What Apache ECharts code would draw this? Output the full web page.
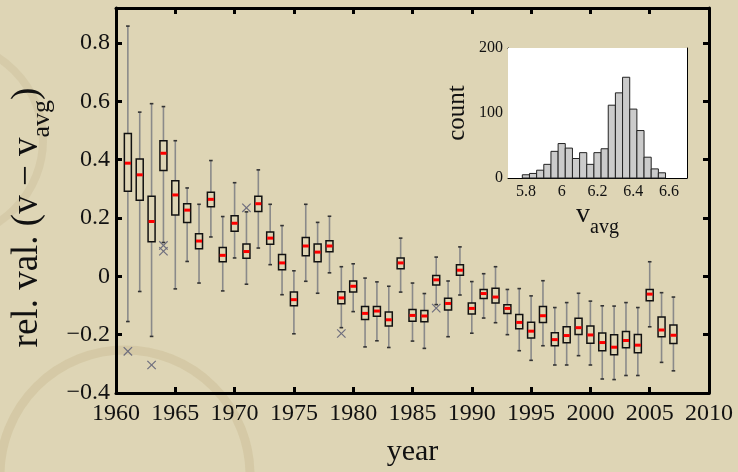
<!DOCTYPE html>
<html>
<head>
<meta charset="utf-8">
<script src="https://cdn.jsdelivr.net/npm/echarts@6/dist/echarts.min.js"></script>
<style>
html,body{margin:0;padding:0;background:#ded5b5;}
#c{width:738px;height:472px;}
</style>
</head>
<body>
<div id="c"></div>
<script>
// ---- data ----
const years = [1961,1962,1963,1964,1965,1966,1967,1968,1969,1970,1971,1972,1973,1974,1975,1976,1977,1978,1979,1980,1981,1982,1983,1984,1985,1986,1987,1988,1989,1990,1991,1992,1993,1994,1995,1996,1997,1998,1999,2000,2001,2002,2003,2004,2005,2006,2007];
const whiskerLow = [-0.155,-0.052,-0.206,0.116,-0.043,0.051,-0.023,0.135,-0.050,0.063,-0.027,0.097,0.040,-0.063,-0.197,-0.017,-0.058,0.012,-0.176,-0.121,-0.242,-0.221,-0.244,-0.054,-0.222,-0.247,-0.097,-0.207,-0.064,-0.195,-0.143,-0.159,-0.200,-0.255,-0.288,-0.238,-0.304,-0.304,-0.272,-0.304,-0.352,-0.354,-0.340,-0.340,-0.173,-0.295,-0.324];
const q1 = [0.292,0.261,0.119,0.363,0.210,0.185,0.095,0.239,0.050,0.155,0.062,0.222,0.110,0.023,-0.101,0.071,0.050,0.084,-0.094,-0.054,-0.148,-0.137,-0.170,0.026,-0.154,-0.156,-0.030,-0.115,0.004,-0.129,-0.076,-0.091,-0.127,-0.180,-0.211,-0.158,-0.238,-0.228,-0.199,-0.229,-0.255,-0.269,-0.245,-0.262,-0.084,-0.207,-0.230];
const median = [0.388,0.348,0.188,0.422,0.279,0.227,0.121,0.264,0.072,0.182,0.085,0.249,0.131,0.046,-0.080,0.104,0.083,0.104,-0.074,-0.034,-0.127,-0.119,-0.149,0.046,-0.134,-0.136,-0.012,-0.093,0.021,-0.110,-0.059,-0.071,-0.110,-0.158,-0.188,-0.135,-0.217,-0.203,-0.176,-0.201,-0.227,-0.243,-0.220,-0.236,-0.061,-0.184,-0.202];
const q3 = [0.490,0.402,0.275,0.465,0.328,0.249,0.146,0.288,0.099,0.208,0.111,0.275,0.152,0.075,-0.054,0.133,0.111,0.122,-0.053,-0.016,-0.103,-0.103,-0.122,0.063,-0.114,-0.117,0.003,-0.075,0.040,-0.091,-0.045,-0.041,-0.097,-0.131,-0.157,-0.103,-0.193,-0.173,-0.144,-0.170,-0.194,-0.200,-0.189,-0.199,-0.045,-0.139,-0.167];
const whiskerHigh = [0.858,0.563,0.592,0.582,0.465,0.303,0.247,0.397,0.205,0.321,0.221,0.365,0.247,0.174,0.019,0.247,0.185,0.206,0.033,0.043,-0.006,-0.019,-0.034,0.131,-0.023,-0.059,0.066,-0.016,0.101,-0.018,0.009,0.033,-0.045,-0.042,-0.067,-0.015,-0.107,-0.090,-0.058,-0.085,-0.101,-0.102,-0.090,-0.107,0.050,-0.056,-0.071];
const outlierYears = [1961,1963,1964,1964,1971,1979,1987];
const outlierValues = [-0.257,-0.304,0.106,0.086,0.235,-0.196,-0.109];

const binStart = [5.78,5.82,5.86,5.90,5.94,5.98,6.02,6.06,6.10,6.14,6.18,6.22,6.26,6.30,6.34,6.38,6.42,6.46,6.50,6.54];
const binEnd   = [5.82,5.86,5.90,5.94,5.98,6.02,6.06,6.10,6.14,6.18,6.22,6.26,6.30,6.34,6.38,6.42,6.46,6.50,6.54,6.58];
const binCount = [5,7,12,21,41,53,46,30,39,21,39,45,112,131,155,106,73,32,14,8];

const yTicks = [-0.4,-0.2,0,0.2,0.4,0.6,0.8];
const xTicks = [1960,1965,1970,1975,1980,1985,1990,1995,2000,2005,2010];
const insetXTicks = [5.8,6,6.2,6.4,6.6];
const insetYTicks = [0,100,200];

// ---- chart ----
const SERIF = '"Liberation Serif","DejaVu Serif",serif';
const chart = echarts.init(document.getElementById('c'), null, {renderer:'canvas'});

const boxData = years.map((y,i)=>[y, whiskerLow[i], q1[i], median[i], q3[i], whiskerHigh[i]]);
const outData = outlierYears.map((y,i)=>[y, outlierValues[i]]);
const histData = binStart.map((s,i)=>[s, binEnd[i], binCount[i]]);

function fmtMinus(v){ return String(+(+v).toFixed(2)).replace('-', '\u2212'); }

const mainAxisLine = {show:true, onZero:false, lineStyle:{color:'#000', width:3}};
const mainTick = {show:true, inside:true, length:6, lineStyle:{color:'#000', width:3}};
const inAxisLine = {show:true, onZero:false, lineStyle:{color:'#000', width:1}};
const inTick = {show:true, inside:true, length:3, lineStyle:{color:'#000', width:1}};

const option = {
  backgroundColor:'#ded5b5',
  animation:false,
  graphic:[
    {type:'circle', z:-10, silent:true, shape:{cx:-55, cy:140, r:98}, style:{fill:'none', stroke:'rgba(165,140,90,0.13)', lineWidth:8}},
    {type:'circle', z:-10, silent:true, shape:{cx:125, cy:475, r:125}, style:{fill:'none', stroke:'rgba(165,140,90,0.16)', lineWidth:9}}
  ],
  grid:[
    {left:116, top:8, width:593, height:388, containLabel:false},
    {left:508, top:48, width:179, height:130, show:true, backgroundColor:'#ffffff', borderWidth:0, z:5}
  ],
  xAxis:[
    {type:'value', gridIndex:0, min:1960, max:2010, interval:5, position:'bottom',
     axisLine:mainAxisLine, axisTick:Object.assign({customValues:xTicks}, mainTick), splitLine:{show:false},
     axisLabel:{color:'#111', fontFamily:SERIF, fontSize:24, margin:9, customValues:xTicks, formatter:v=>String(v)},
     name:'year', nameLocation:'middle', nameGap:44,
     nameTextStyle:{color:'#111', fontFamily:SERIF, fontSize:30}},
    {type:'value', gridIndex:0, min:1960, max:2010, interval:5, position:'top',
     axisLine:mainAxisLine, axisTick:Object.assign({customValues:xTicks}, mainTick), axisLabel:{show:false}, splitLine:{show:false}},
    {type:'value', gridIndex:1, min:5.7, max:6.7, position:'bottom',
     axisLine:inAxisLine, axisTick:Object.assign({customValues:insetXTicks}, inTick), splitLine:{show:false},
     axisLabel:{color:'#111', fontFamily:SERIF, fontSize:16, margin:6, customValues:insetXTicks,
                formatter:v=>String(+(+v).toFixed(1))},
     name:'{v|v}{s|avg}', nameLocation:'middle', nameGap:18,
     nameTextStyle:{rich:{
       v:{fontFamily:SERIF, fontSize:28, color:'#111', verticalAlign:'top', lineHeight:28},
       s:{fontFamily:SERIF, fontSize:20, color:'#111', verticalAlign:'top', lineHeight:20, padding:[17,0,0,0]}
     }}},
    {type:'value', gridIndex:1, min:5.7, max:6.7, position:'top',
     axisLine:inAxisLine, axisTick:Object.assign({customValues:insetXTicks}, inTick), axisLabel:{show:false}, splitLine:{show:false}}
  ],
  yAxis:[
    {type:'value', gridIndex:0, min:-0.4, max:0.92, interval:0.2, position:'left',
     axisLine:mainAxisLine, axisTick:Object.assign({customValues:yTicks}, mainTick), splitLine:{show:false},
     axisLabel:{color:'#111', fontFamily:SERIF, fontSize:24, margin:6, customValues:yTicks, formatter:fmtMinus},
     name:'{a|rel. val. (v \u2212 v}{s|avg}{a|)}', nameLocation:'middle', nameGap:58,
     nameTextStyle:{padding:[0,34,0,0], rich:{
       a:{fontFamily:SERIF, fontSize:37, color:'#111', verticalAlign:'top', lineHeight:38},
       s:{fontFamily:SERIF, fontSize:26, color:'#111', verticalAlign:'top', lineHeight:26, padding:[21,0,0,0]}
     }}},
    {type:'value', gridIndex:0, min:-0.4, max:0.92, interval:0.2, position:'right',
     axisLine:mainAxisLine, axisTick:Object.assign({customValues:yTicks}, mainTick), axisLabel:{show:false}, splitLine:{show:false}},
    {type:'value', gridIndex:1, min:0, max:200, interval:100, position:'left',
     axisLine:inAxisLine, axisTick:inTick, splitLine:{show:false},
     axisLabel:{color:'#111', fontFamily:SERIF, fontSize:16, margin:5, customValues:insetYTicks},
     name:'count', nameLocation:'middle', nameGap:38,
     nameTextStyle:{color:'#111', fontFamily:SERIF, fontSize:25}},
    {type:'value', gridIndex:1, min:0, max:200, interval:100, position:'right',
     axisLine:inAxisLine, axisTick:inTick, axisLabel:{show:false}, splitLine:{show:false}}
  ],
  series:[
    {type:'custom', name:'box', xAxisIndex:0, yAxisIndex:0, data:boxData, z:3, clip:false,
     renderItem:function(params, api){
       const x = api.value(0);
       const pLo = api.coord([x, api.value(1)]);
       const pQ1 = api.coord([x, api.value(2)]);
       const pMed = api.coord([x, api.value(3)]);
       const pQ3 = api.coord([x, api.value(4)]);
       const pHi = api.coord([x, api.value(5)]);
       const cx = pLo[0];
       const hw = 3.5, cw = 1.8;
       return {type:'group', children:[
         {type:'line', shape:{x1:cx, y1:pQ3[1], x2:cx, y2:pHi[1]}, style:{stroke:'#8a8a8a', lineWidth:1.6}},
         {type:'line', shape:{x1:cx, y1:pQ1[1], x2:cx, y2:pLo[1]}, style:{stroke:'#8a8a8a', lineWidth:1.6}},
         {type:'line', shape:{x1:cx-cw, y1:pHi[1], x2:cx+cw, y2:pHi[1]}, style:{stroke:'#333', lineWidth:1.6}},
         {type:'line', shape:{x1:cx-cw, y1:pLo[1], x2:cx+cw, y2:pLo[1]}, style:{stroke:'#333', lineWidth:1.6}},
         {type:'rect', shape:{x:cx-hw, y:pQ3[1], width:hw*2, height:pQ1[1]-pQ3[1]}, style:{fill:'none', stroke:'#111', lineWidth:1.5}},
         {type:'line', shape:{x1:cx-hw+0.5, y1:pMed[1], x2:cx+hw-0.5, y2:pMed[1]}, style:{stroke:'#ff0000', lineWidth:3}}
       ]};
     }},
    {type:'custom', name:'outliers', xAxisIndex:0, yAxisIndex:0, data:outData, z:3,
     renderItem:function(params, api){
       const p = api.coord([api.value(0), api.value(1)]);
       const s = 4.2;
       return {type:'group', children:[
         {type:'line', shape:{x1:p[0]-s, y1:p[1]-s, x2:p[0]+s, y2:p[1]+s}, style:{stroke:'#6e6e7e', lineWidth:1.2}},
         {type:'line', shape:{x1:p[0]-s, y1:p[1]+s, x2:p[0]+s, y2:p[1]-s}, style:{stroke:'#6e6e7e', lineWidth:1.2}}
       ]};
     }},
    {type:'custom', name:'hist', xAxisIndex:2, yAxisIndex:2, data:histData, z:6,
     renderItem:function(params, api){
       const a = api.coord([api.value(0), api.value(2)]);
       const b = api.coord([api.value(1), 0]);
       return {type:'rect', shape:{x:a[0], y:a[1], width:b[0]-a[0], height:b[1]-a[1]},
               style:{fill:'#cbcbcb', stroke:'#222', lineWidth:1}};
     }}
  ]
};
chart.setOption(option);
</script>
</body>
</html>
